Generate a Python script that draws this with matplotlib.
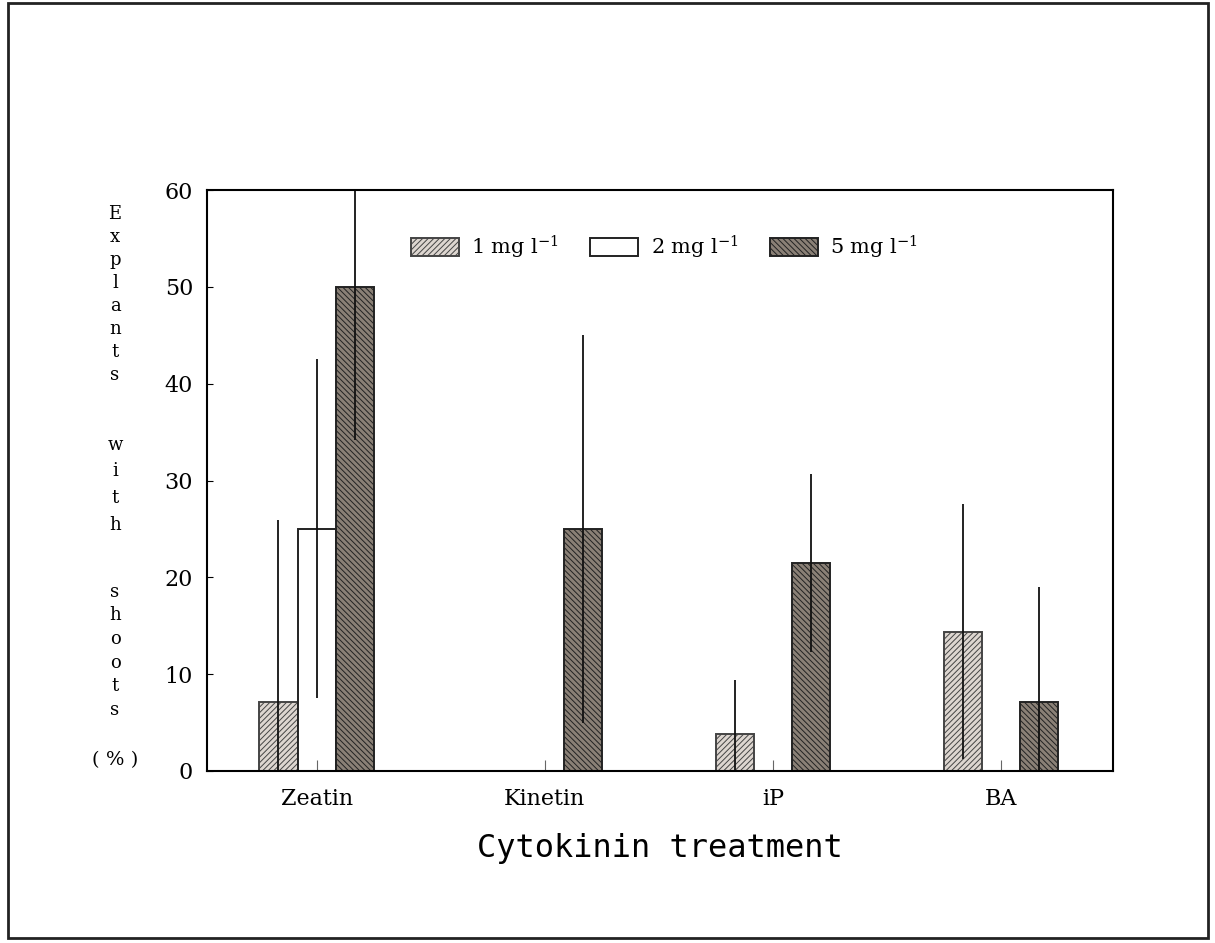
import numpy as np
import matplotlib
matplotlib.use("Agg")
import matplotlib.pyplot as plt
from matplotlib.patches import Rectangle

# Datos
tratamientos = ["Zeatin", "Kinetin", "iP", "BA"]
conc_1 = [7.1, 0.0, 3.8, 14.4]
err_1 = [18.8, 0.0, 5.6, 13.2]
conc_2 = [25.0, 0.0, 0.0, 0.0]
err_2 = [17.5, 0.0, 0.0, 0.0]
conc_5 = [50.0, 25.0, 21.5, 7.1]
err_5 = [15.8, 20.0, 9.2, 11.9]
etiquetas = ["1 mg l$^{-1}$", "2 mg l$^{-1}$", "5 mg l$^{-1}$"]
y_ticks = [0, 10, 20, 30, 40, 50, 60]

plt.rcParams["font.family"] = "DejaVu Serif"
plt.rcParams["mathtext.fontset"] = "dejavuserif"
plt.rcParams["hatch.linewidth"] = 0.7

fig = plt.figure(figsize=(12.15, 9.43), dpi=100)
ax = fig.add_axes([0.1704, 0.1824, 0.7457, 0.6161])

x = np.arange(len(tratamientos))
w = 0.167

b1 = ax.bar(x - w, conc_1, w, facecolor="#ddd6d0", edgecolor="#444444",
            hatch="//////", linewidth=1.4, label=etiquetas[0])
b2 = ax.bar(x, conc_2, w, facecolor="white", edgecolor="#222222",
            linewidth=1.4, label=etiquetas[1])
b3 = ax.bar(x + w, conc_5, w, facecolor="#8a8076", edgecolor="#222222",
            hatch="\\\\\\\\\\\\", linewidth=1.4, label=etiquetas[2])

# barras de error (sin tapas)
for off, vals, errs in [(-w, conc_1, err_1), (0, conc_2, err_2), (w, conc_5, err_5)]:
    vals = np.array(vals)
    errs = np.array(errs)
    m = errs > 0
    ax.errorbar(x[m] + off, vals[m], yerr=errs[m], fmt="none",
                ecolor="#111111", elinewidth=1.3, capsize=0)

ax.set_xlim(-0.48, 3.49)
ax.set_ylim(0, 60)
ax.set_yticks(y_ticks)
ax.set_xticks(x)
ax.set_xticklabels(tratamientos)
ax.tick_params(axis="y", direction="in", length=4, width=0.8, labelsize=16, pad=10)
ax.tick_params(axis="x", direction="in", length=8, width=0.8, labelsize=16,
               pad=12, color="#666666")
for s in ax.spines.values():
    s.set_linewidth(1.5)

ax.set_xlabel("Cytokinin treatment", family="DejaVu Sans Mono", fontsize=23,
              labelpad=17)

leg = ax.legend(loc="center", bbox_to_anchor=(0.505, 0.902), ncol=3,
                frameon=False, fontsize=15, handlelength=2.3,
                handleheight=1.0, handletextpad=0.6, columnspacing=1.5)

# etiqueta vertical letra por letra
for palabra, ytop, esp in [("Explants", 0.783, 1.36), ("with", 0.538, 1.62),
                           ("shoots", 0.382, 1.4)]:
    fig.text(0.0947, ytop, "\n".join(palabra), ha="center", va="top",
             multialignment="center", fontsize=13, linespacing=esp)
fig.text(0.0947, 0.194, "( % )", ha="center", va="center", fontsize=14)

# marco exterior
fig.add_artist(Rectangle((8 / 1215, 1 - 938 / 943), 1200 / 1215, 935 / 943,
                         transform=fig.transFigure, fill=False,
                         linewidth=2, edgecolor="#222222"))

fig.savefig("out.png", dpi=100)
